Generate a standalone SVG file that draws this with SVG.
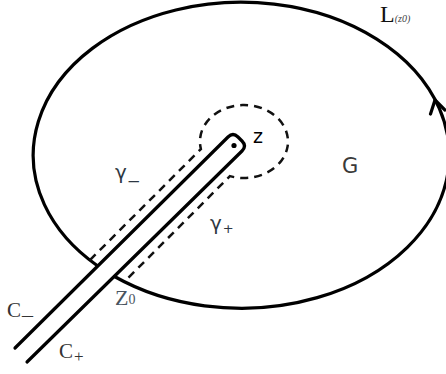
<svg xmlns="http://www.w3.org/2000/svg" width="446" height="374" viewBox="0 0 446 374">
<style>
.solid{fill:none;stroke:#000;stroke-width:3.2;stroke-linecap:round;stroke-linejoin:round}
.dash{fill:none;stroke:#111;stroke-width:2.5;stroke-dasharray:8 6}
.serif{font-family:"Liberation Serif","Times New Roman",serif}
.sans{font-family:"DejaVu Sans","Liberation Sans",sans-serif}
</style>
<rect width="446" height="374" fill="#fff"/>
<g id="contour">
<path class="solid" d="M97.4,265.7 A208,153 0 1 1 114.5,276.5"/>
<polyline class="solid" points="430.5,114 435,100 445,110"/>
</g>
<g id="slit">
<path class="solid" d="M15,348 L228,137 Q233,132 238,137 L242,141 Q247,146 242,151 L27,362"/>
<circle cx="234" cy="145.5" r="2.6" fill="#000"/>
</g>
<g id="gamma-path">
<path class="dash" d="M89.9,260.1 L200.9,149 A44,36.5 0 1 1 229.9,176.1 L124.4,281.7"/>
</g>
<g id="labels">
<text class="serif" x="380" y="22" font-size="24" fill="#111">L<tspan font-size="10" font-style="italic" fill="#444">(z0)</tspan></text>
<text class="sans" x="253" y="143" font-size="19" fill="#000">z</text>
<text class="sans" x="342" y="173" font-size="21" fill="#3a3a3a">G</text>
<text class="sans" x="115" y="179" font-size="20" fill="#2d3742">γ<tspan font-size="20" dx="2" dy="-1">_</tspan></text>
<text class="sans" x="210" y="230" font-size="20" fill="#2d3742">γ<tspan font-size="13" dx="1" dy="3">+</tspan></text>
<text class="serif" x="115" y="305" font-size="22" fill="#4a5560">Z<tspan font-size="14" dy="-1">0</tspan></text>
<text class="serif" x="7" y="317" font-size="21" fill="#333">C<tspan font-size="22" dx="1" dy="-3">_</tspan></text>
<text class="serif" x="59" y="358" font-size="21" fill="#333">C<tspan font-size="17" dx="1" dy="4">+</tspan></text>
</g>
</svg>
